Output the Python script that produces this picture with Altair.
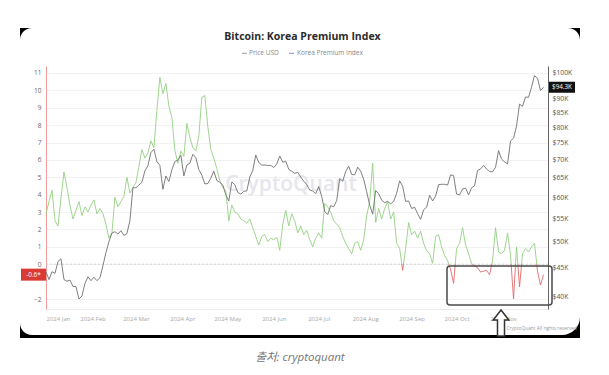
import altair as alt
import pandas as pd

# ---------------- data ----------------
dates = pd.date_range("2024-01-01", "2024-11-28", freq="2D").strftime("%Y-%m-%d").tolist()

# Bitcoin price, thousands of USD (every 2 days)
price_k = [
    44.2, 42.8, 44.2, 43.9, 46.1, 46.6, 42.8, 42.5, 42.7, 41.6, 41.6, 39.5, 40.0, 42.1, 43.3, 42.6,  # Jan
    43.2, 42.6, 43.1, 45.3, 47.8, 50.0, 51.8, 52.1, 51.6, 52.3, 51.3, 51.7, 54.5, 62.4,  # Feb
    62.4, 63.1, 63.8, 66.9, 68.3, 72.1, 73.1, 69.5, 68.4, 62.0, 65.5, 64.0, 67.2, 69.5, 69.9, 71.3,  # Mar
    65.5, 68.5, 69.0, 71.6, 70.6, 67.2, 65.7, 63.4, 63.5, 64.9, 66.8, 64.3, 63.8, 63.1, 60.6,  # Apr
    59.1, 63.9, 63.2, 61.2, 60.8, 61.5, 61.6, 65.2, 67.0, 71.4, 69.2, 68.5, 68.5, 68.4, 68.4,  # May
    67.8, 68.8, 71.1, 69.3, 69.6, 67.3, 66.8, 66.2, 66.5, 65.2, 64.1, 63.2, 61.8, 61.6, 60.9,  # Jun
    62.7, 60.2, 56.6, 55.9, 58.0, 57.7, 59.2, 64.8, 64.1, 66.7, 68.2, 65.9, 65.8, 67.9, 66.8, 64.6,  # Jul
    61.4, 58.1, 56.0, 61.7, 60.9, 59.3, 58.7, 59.0, 58.4, 59.0, 61.0, 64.2, 62.8, 59.0, 59.1,  # Aug
    57.3, 57.6, 56.1, 54.8, 57.0, 57.6, 60.5, 59.1, 60.3, 63.2, 63.3, 63.3, 63.1, 65.8, 65.6,  # Sep
    60.8, 60.6, 62.1, 62.3, 60.6, 62.4, 62.9, 67.0, 67.4, 68.4, 67.4, 66.7, 66.6, 67.9, 72.7, 70.2,  # Oct
    69.4, 68.8, 75.6, 76.5, 80.4, 88.0, 87.2, 90.6, 90.5, 94.3, 98.9, 97.9, 93.0, 94.3,  # Nov
]

# Korea Premium Index, % (every 2 days)
kpi = [
    2.9, 3.6, 4.25, 2.5, 2.2, 3.8, 5.3, 4.4, 3.4, 2.6,
    3.1, 3.6, 2.8, 3.3, 3.0, 3.4, 3.7, 2.9, 3.2, 2.9,
    2.3, 1.5, 1.8, 3.85, 3.3, 3.6, 3.9, 5.0, 4.1, 4.4,
    4.7, 5.6, 6.6, 6.1, 6.4, 7.1, 6.7, 8.85, 10.75, 9.8,
    10.4, 9.1, 8.45, 6.55, 5.8, 6.5, 6.2, 8.1, 7.3, 6.7,
    6.5, 7.4, 9.6, 9.7, 7.9, 6.6, 6.1, 5.5, 4.8, 4.4,
    4.2, 2.5, 3.4, 3.0, 2.9, 2.6, 2.5, 2.35, 2.6, 2.1,
    1.6, 1.1, 1.6, 1.7, 1.3, 1.5, 1.4, 1.55, 0.8, 2.3,
    3.1, 2.2, 2.9, 2.5, 1.8, 2.2, 1.7, 1.95, 1.4, 1.0,
    1.5, 1.8, 1.5, 3.5, 3.3, 3.0, 2.5, 2.3, 2.1, 1.6,
    1.2, 0.9, 0.6, 1.2, 1.3, 0.8, 1.4, 2.8, 3.6, 5.8,
    2.4, 3.2, 2.6, 3.2, 3.6, 2.6, 3.0, 1.2, 0.9, -0.35,
    0.9, 2.4, 1.7, 1.9, 1.5, 1.9, 1.2, 0.8, 0.6, 0.05,
    1.6, 1.7, 1.0, 0.5, 0.2, -0.3, -1.1, 0.9, 1.2, 2.1,
    1.1, 0.6, 0.05, -0.1, -0.2, -0.45, -0.4, -0.35, -0.6, 0.2,
    2.1, 0.7, 0.6, 0.8, 1.8, 0.5, -2.0, 1.0, -1.3, 0.6,
    0.9, 0.7, 1.0, 1.2, -0.4, -1.2, -0.6,
]

kpi_ticks = [-2, 0, 1, 2, 3, 4, 5, 6, 7, 8, 9, 10, 11]
price_ticks = [40, 45, 50, 55, 60, 65, 70, 75, 80, 85, 90, 100]
month_ticks = [alt.DateTime(year=2024, month=m, date=1) for m in range(1, 12)]

title_text = "Bitcoin: Korea Premium Index"
legend_labels = ["Price USD", "Korea Premium Index"]
caption_text = "출처: cryptoquant"
watermark_text = "CryptoQuant"
rights_text = "CryptoQuant All rights reserved"
last_price_label = "$94.3K"

df = pd.DataFrame({"date": dates, "price": price_k, "kpi": kpi})

W, H = 502, 243
FONT = "Open Sans"
GREEN = "#93d081"
RED = "#e06a6a"

one = pd.DataFrame({"a": [0]})

x_enc = alt.X(
    "date:T",
    scale=alt.Scale(domain=["2024-01-01", "2024-12-01"]),
    axis=alt.Axis(
        format="%Y %b", values=month_ticks, labelFontSize=6, labelColor="#a8a8a8",
        domainColor="#ececec", ticks=False, grid=False, labelPadding=6, title=None,
        labelFont=FONT, labelOverlap=False,
    ),
)

# ---------------- KPI (left axis) ----------------
kmax, kmin = max(kpi), min(kpi)
zero_off = kmax / (kmax - kmin)
grad = alt.LinearGradient(
    gradient="linear",
    stops=[
        alt.GradientStop(color=GREEN, offset=0),
        alt.GradientStop(color=GREEN, offset=zero_off),
        alt.GradientStop(color=RED, offset=zero_off),
        alt.GradientStop(color=RED, offset=1),
    ],
    x1=0, x2=0, y1=0, y2=1,
)

kpi_y = alt.Y(
    "kpi:Q",
    scale=alt.Scale(domain=[-2.575, 11.40], nice=False, zero=False),
    axis=alt.Axis(
        orient="left", values=kpi_ticks, grid=True, gridColor="#f2f2f2",
        domainColor="#f09a9a", ticks=False, labelFontSize=6.5, labelColor="#666",
        labelPadding=5, title=None, labelFont=FONT, labelOverlap=False,
    ),
)

zero_rule = alt.Chart(pd.DataFrame({"kpi": [0]})).mark_rule(
    strokeDash=[2, 2], color="#cccccc", strokeWidth=0.8
).encode(y=kpi_y)

kpi_line = alt.Chart(df).mark_line(strokeWidth=0.9, stroke=grad).encode(x=x_enc, y=kpi_y)

last_kpi = pd.DataFrame({"kpi": [kpi[-1]], "lbl": [f"{kpi[-1]}*"]})
red_box = alt.Chart(last_kpi).mark_rect(color="#d93a33", yOffset=-6, y2Offset=6).encode(
    x=alt.value(-25), x2=alt.value(0), y=kpi_y, y2=alt.Y2("kpi")
)
red_txt = alt.Chart(last_kpi).mark_text(
    color="white", fontSize=6.5, font=FONT, align="center", baseline="middle"
).encode(x=alt.value(-12.5), y=kpi_y, text="lbl:N")

kpi_layer = alt.layer(zero_rule, kpi_line, red_box, red_txt)

# ---------------- Price (right axis, log) ----------------
price_y = alt.Y(
    "price:Q",
    scale=alt.Scale(type="log", domain=[37.92, 102.9], nice=False),
    axis=alt.Axis(
        orient="right", values=price_ticks, labelExpr="'$' + datum.value + 'K'",
        domainColor="#666", ticks=False, grid=False, labelFontSize=6.8,
        labelColor="#555", labelPadding=4, title=None, labelFont=FONT, labelOverlap=False,
    ),
)
price_line = alt.Chart(df).mark_line(strokeWidth=0.9, color="#707070").encode(x=x_enc, y=price_y)

last_p = pd.DataFrame({"price": [price_k[-1]], "lbl": [last_price_label]})
black_box = alt.Chart(last_p).mark_rect(color="#111", yOffset=-5.5, y2Offset=5.5).encode(
    x=alt.value(503), x2=alt.value(529), y=price_y, y2=alt.Y2("price")
)
black_txt = alt.Chart(last_p).mark_text(
    color="white", fontSize=6.3, font=FONT, align="center", baseline="middle"
).encode(x=alt.value(516), y=price_y, text="lbl:N")

price_layer = alt.layer(price_line, black_box, black_txt)

# ---------------- decorations ----------------
def corner(path, x, y, size):
    return alt.Chart(one).mark_point(
        shape=path, size=size, filled=True, color="black", opacity=1, strokeWidth=0
    ).encode(x=alt.value(x), y=alt.value(y))

tl = corner("M-1,-1 L1,-1 A2,2 0 0 0 -1,1 Z", -20, -32, 144)
tr = corner("M1,-1 L1,1 A2,2 0 0 0 -1,-1 Z", 528, -32, 144)
bl = corner("M-1,1 L-1,-1 A2,2 0 0 0 1,1 Z", -20, 263, 144)
br = corner("M1,1 L-1,1 A2,2 0 0 0 1,-1 Z", 525, 260, 324)
strip = alt.Chart(one).mark_rect(color="black").encode(
    x=alt.value(-26), x2=alt.value(534), y=alt.value(269), y2=alt.value(272)
)

watermark = alt.Chart(one).mark_text(
    text=watermark_text, font=FONT, fontSize=21, fontWeight=600, color="#e6e6ec",
    align="center", baseline="middle",
).encode(x=alt.value(245), y=alt.value(119))

title = alt.Chart(one).mark_text(
    text=title_text, font=FONT, fontSize=10.5, fontWeight="bold", color="#2b2b2b",
    align="center", baseline="middle",
).encode(x=alt.value(256.5), y=alt.value(-29))

leg_p_line = alt.Chart(one).mark_rule(color="#a0a0a0", strokeWidth=1).encode(
    x=alt.value(196), x2=alt.value(201), y=alt.value(-12.7)
)
leg_p_txt = alt.Chart(one).mark_text(
    text=legend_labels[0], font=FONT, fontSize=6.5, color="#888", align="left", baseline="middle"
).encode(x=alt.value(203), y=alt.value(-12.7))
leg_k_line = alt.Chart(one).mark_rule(color="#8c86d9", strokeWidth=1).encode(
    x=alt.value(243), x2=alt.value(248), y=alt.value(-12.7)
)
leg_k_txt = alt.Chart(one).mark_text(
    text=legend_labels[1], font=FONT, fontSize=6.5, color="#888", align="left", baseline="middle"
).encode(x=alt.value(251), y=alt.value(-12.7))

rights = alt.Chart(one).mark_text(
    text=rights_text, font=FONT, fontSize=4.8, color="#999", align="right", baseline="middle"
).encode(x=alt.value(531), y=alt.value(263))

box = alt.Chart(one).mark_rect(
    fill="white", fillOpacity=0, stroke="#4a4a4a", strokeWidth=1.5, cornerRadius=3
).encode(x=alt.value(401), x2=alt.value(506), y=alt.value(200), y2=alt.value(239))

arrow = alt.Chart(one).mark_point(
    shape="M0,-1 L0.6,-0.23 L0.27,-0.23 L0.27,1 L-0.27,1 L-0.27,-0.23 L-0.6,-0.23 Z",
    size=676, filled=True, fill="white", stroke="#333", strokeWidth=1.5,
    opacity=1, fillOpacity=1, strokeOpacity=1,
).encode(x=alt.value(455), y=alt.value(257))

caption = alt.Chart(one).mark_text(
    text=caption_text, font="Open Sans, Noto Sans CJK KR", fontSize=11.5, fontStyle="italic",
    color="#777", align="center", baseline="middle",
).encode(x=alt.value(254), y=alt.value(292))

chart = alt.layer(
    tl, tr, bl, br, strip, watermark,
    kpi_layer, price_layer,
    title, leg_p_line, leg_p_txt, leg_k_line, leg_k_txt,
    rights, box, arrow, caption,
).resolve_scale(y="independent").properties(
    width=W, height=H,
    padding={"left": 38, "top": 58, "right": 53, "bottom": 57},
    autosize=alt.AutoSizeParams(type="none"),
    background="white",
).configure_view(strokeWidth=0).configure_axis(labelOverlap=False)

chart.save("out.html", embed_options={"renderer": "svg", "actions": False})
